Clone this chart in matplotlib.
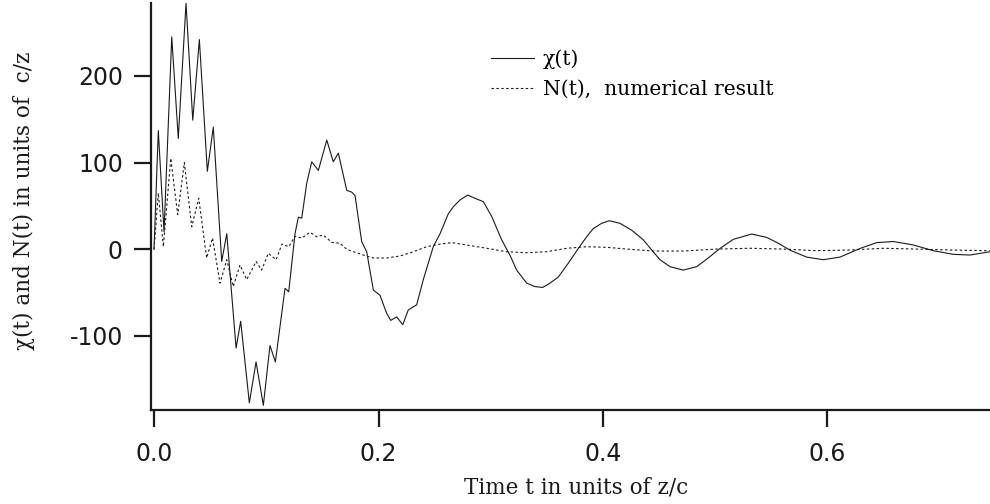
import matplotlib
matplotlib.use('Agg')
import matplotlib.pyplot as plt

# chi(t), time in units of z/c, value in units of c/z
chi_t = [0, 0.0038, 0.0089, 0.0158, 0.0216, 0.0285, 0.0345, 0.0404, 0.0475, 0.0528,
         0.0603, 0.0648, 0.0731, 0.0772, 0.0849, 0.0909, 0.0974, 0.1033, 0.1081, 0.1167,
         0.1200, 0.1256, 0.1286, 0.1316, 0.1360, 0.1405, 0.1464, 0.1539, 0.1597, 0.1642,
         0.1717, 0.1761, 0.1791, 0.1850, 0.1895, 0.1954, 0.2013, 0.2073, 0.2109, 0.2162,
         0.2216, 0.2265, 0.2340, 0.2399, 0.2488, 0.2548, 0.2622, 0.2666, 0.2726, 0.2795,
         0.2875, 0.2934, 0.3008, 0.3097, 0.3172, 0.3231, 0.3320, 0.3394, 0.3463, 0.3528,
         0.3602, 0.3691, 0.3780, 0.3855, 0.3914, 0.3988, 0.4056, 0.4151, 0.4256, 0.4359,
         0.4448, 0.4508, 0.4597, 0.4715, 0.4835, 0.4938, 0.5042, 0.5161, 0.5325, 0.5458,
         0.5562, 0.5666, 0.5815, 0.5963, 0.6111, 0.6290, 0.6438, 0.6586, 0.6765, 0.6943,
         0.7121, 0.7269, 0.7448]
chi_v = [0, 137, 20, 245, 128, 284, 149, 242, 90, 141,
         -14, 18, -114, -83, -177, -130, -180, -111, -130, -45,
         -49, 18, 37, 36, 76, 101, 91, 126, 101, 111,
         68, 66, 62, 9, -3, -47, -53, -74, -82, -78,
         -87, -70, -64, -35, 3, 18, 41, 49, 57, 62.6,
         58, 55, 38, 11, -7, -24, -39, -43, -44, -39,
         -32, -16, 1, 14.5, 24, 30, 33, 30, 22, 11,
         -3, -12, -20, -24, -20, -10, 1, 11.5, 17.6, 13.8,
         7, -1, -9, -12, -9, 1, 7.7, 9, 5, -1.6,
         -5.8, -6.6, -2.8]

# N(t), numerical result
n_t = [0, 0.0038, 0.0083, 0.0149, 0.0211, 0.0270, 0.0336, 0.0398, 0.0469, 0.0521,
       0.0588, 0.0648, 0.0706, 0.0766, 0.0826, 0.0909, 0.0959, 0.1018, 0.1087, 0.1140,
       0.1200, 0.1256, 0.1316, 0.1390, 0.1449, 0.1508, 0.1583, 0.1657, 0.1717, 0.1806,
       0.1865, 0.1954, 0.2073, 0.2192, 0.2310, 0.2429, 0.2548, 0.2652, 0.2786, 0.2964,
       0.3142, 0.3320, 0.3498, 0.3677, 0.3855, 0.4033, 0.4211, 0.4448, 0.4715, 0.5016,
       0.5310, 0.5608, 0.5902, 0.6200, 0.6499, 0.6793, 0.7091, 0.7448]
n_v = [0, 65, 3, 105, 40, 100, 26, 59, -10, 13,
       -39, -12, -43, -18, -35, -14, -24, -4.6, -12, 6,
       3, 15, 13, 19.6, 14.5, 16.5, 8, 7, 0, -4,
       -6.6, -10, -10, -7.7, -2.8, 3, 6, 7.7, 5, 1.2,
       -2.8, -3.9, -2.8, 1.2, 3, 2.3, 0.3, -2, -2, 0.3,
       1.2, 0.3, -1.6, -0.8, 1.2, 0.3, -0.8, -1.6]

x_ticks = [0.0, 0.2, 0.4, 0.6]
x_labels = ['0.0', '0.2', '0.4', '0.6']
y_ticks = [-100, 0, 100, 200]
y_labels = ['-100', '0', '100', '200']

W, H = 990, 504
fig = plt.figure(figsize=(W / 100, H / 100), dpi=100)
ax = fig.add_axes([151 / W, 1 - 410 / H, (W - 151) / W, (410 - 3) / H])

ax.plot(chi_t, chi_v, color='#1a1a1a', linewidth=0.8, label='χ(t)')
ax.plot(n_t, n_v, color='#1a1a1a', linewidth=0.8, linestyle=(0, (2.2, 2.2)),
        label='N(t),  numerical result')

ax.set_xlim(-0.0027, 0.7448)
ax.set_ylim(-185.4, 284.2)

for s in ['top', 'right']:
    ax.spines[s].set_visible(False)
for s in ['left', 'bottom']:
    ax.spines[s].set_linewidth(1.6)
    ax.spines[s].set_color('#1a1a1a')

ax.set_xticks(x_ticks)
ax.set_xticklabels(x_labels)
ax.set_yticks(y_ticks)
ax.set_yticklabels(y_labels)
ax.tick_params(direction='out', length=12.2, width=1.6, color='#1a1a1a',
               labelsize=17, labelcolor='#1a1a1a')
ax.tick_params(axis='x', pad=11)
ax.tick_params(axis='y', pad=8)
for lab in ax.get_xticklabels() + ax.get_yticklabels():
    lab.set_fontfamily('DejaVu Sans')

serif = 'DejaVu Serif'
fig.text(576 / W, 1 - 487 / H, 'Time t in units of z/c', family=serif, fontsize=15.5,
         ha='center', va='center', color='#1a1a1a')
fig.text(24 / W, 1 - 201 / H, 'χ(t) and N(t) in units of  c/z', family=serif,
         fontsize=15.5, rotation=90, ha='center', va='center', color='#1a1a1a')

ax.legend(loc='upper left', bbox_to_anchor=(491 / W, 1 - 49 / H),
          bbox_transform=fig.transFigure, frameon=False, borderpad=0,
          borderaxespad=0, handlelength=2.1, handletextpad=0.45, labelspacing=0.55,
          prop={'family': serif, 'size': 14.6})

fig.savefig('out.png', dpi=100)
